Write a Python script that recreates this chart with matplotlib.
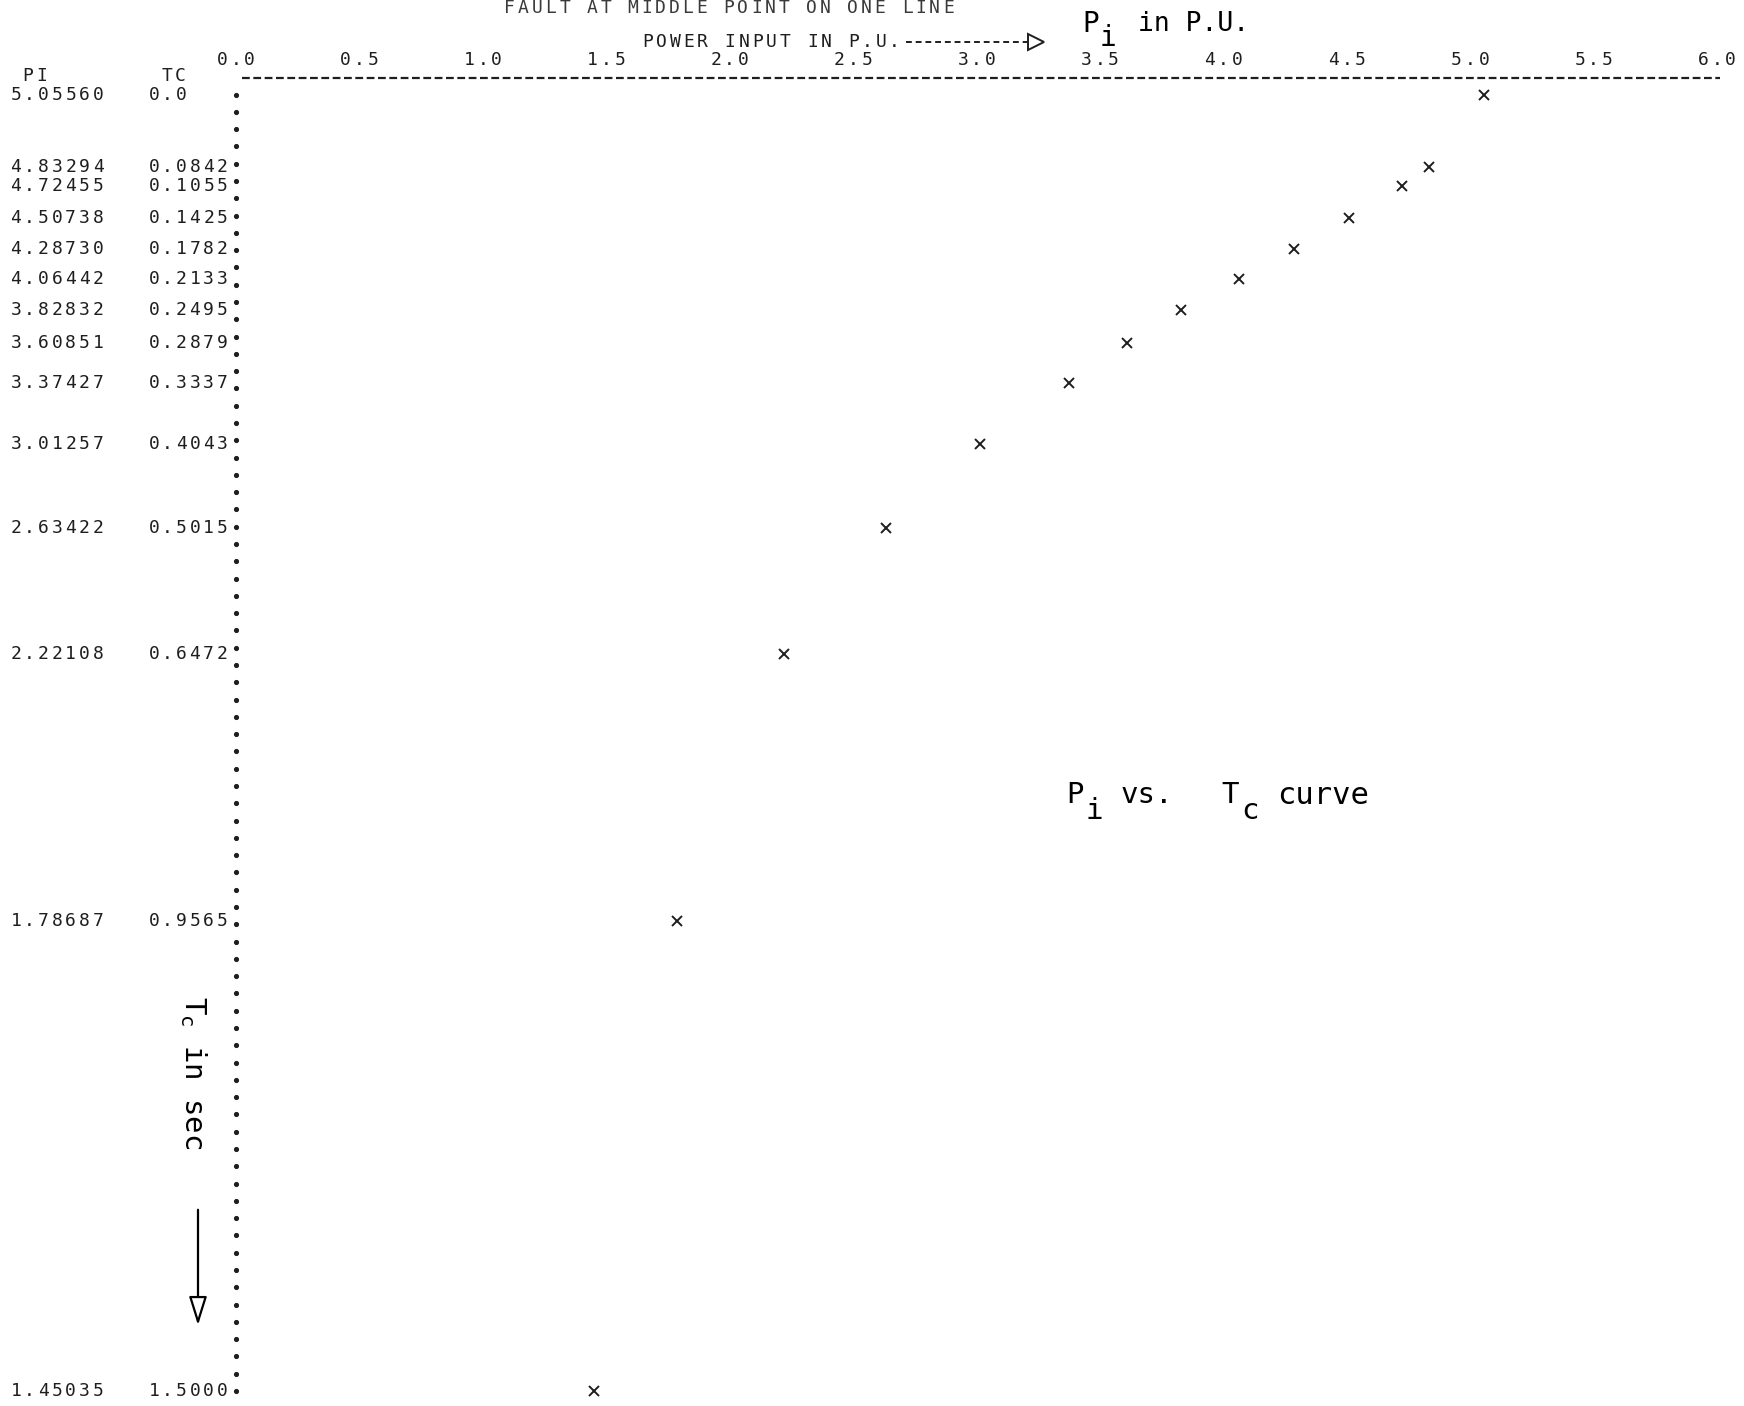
import numpy as np
import matplotlib
matplotlib.use("Agg")
import matplotlib.pyplot as plt
import matplotlib.transforms as mtransforms
from matplotlib.lines import Line2D
from matplotlib.patches import FancyArrowPatch

# ---- data ----
pi_values = [5.05560, 4.83294, 4.72455, 4.50738, 4.28730, 4.06442, 3.82832,
             3.60851, 3.37427, 3.01257, 2.63422, 2.22108, 1.78687, 1.45035]
tc_values = [0.0, 0.0842, 0.1055, 0.1425, 0.1782, 0.2133, 0.2495,
             0.2879, 0.3337, 0.4043, 0.5015, 0.6472, 0.9565, 1.5000]
pi_labels = ["5.05560", "4.83294", "4.72455", "4.50738", "4.28730", "4.06442",
             "3.82832", "3.60851", "3.37427", "3.01257", "2.63422", "2.22108",
             "1.78687", "1.45035"]
tc_labels = ["0.0", "0.0842", "0.1055", "0.1425", "0.1782", "0.2133", "0.2495",
             "0.2879", "0.3337", "0.4043", "0.5015", "0.6472", "0.9565", "1.5000"]
x_ticks = [0.0, 0.5, 1.0, 1.5, 2.0, 2.5, 3.0, 3.5, 4.0, 4.5, 5.0, 5.5, 6.0]
x_tick_labels = ["0.0", "0.5", "1.0", "1.5", "2.0", "2.5", "3.0", "3.5",
                 "4.0", "4.5", "5.0", "5.5", "6.0"]
row_step = 0.02   # one printer line per 0.02 s

W, H = 1744, 1406
fig = plt.figure(figsize=(W / 100, H / 100), dpi=100)
fig.patch.set_facecolor("white")


def fx(px):
    return px / W


def fy(py):
    return 1 - py / H


MONO = "DejaVu Sans Mono"
INK = "#1e1e1e"
PITCH = 13.7     # printer character pitch in pixels


def mono(x, y, s, transform, ha="left", size=13, color=INK, pitch=PITCH):
    """Draw text at a fixed line-printer character pitch."""
    n = len(s)
    if ha == "left":
        start = 0.0
    elif ha == "center":
        start = -n * pitch / 2
    else:
        start = -n * pitch
    for i, ch in enumerate(s):
        if ch == " ":
            continue
        tr = mtransforms.offset_copy(transform, x=start + (i + 0.5) * pitch,
                                     y=0, units="dots")
        fig.text(x, y, ch, transform=tr, ha="center", va="center",
                 family=MONO, fontsize=size, color=color)


# axes: x=0 at px 236, x=6 at px 1717; y=0 at px 94.5, y=1.5 at px 1391
ax_l, ax_r, ax_t, ax_b = 236, 1717, 94.5, 1391
ax = fig.add_axes([fx(ax_l), fy(ax_b), fx(ax_r - ax_l), (ax_b - ax_t) / H])
ax.set_xlim(0, 6)
ax.set_ylim(1.5, 0)
for s in ax.spines.values():
    s.set_visible(False)
ax.set_facecolor("none")
ax.set_xticks([])
ax.set_yticks([])

# tick labels along the top (data x, figure y)
tx = mtransforms.blended_transform_factory(ax.transData, fig.transFigure)
for v, lab in zip(x_ticks, x_tick_labels):
    mono(v, fy(60), lab, tx, ha="center")

# left dotted axis
dots_y = np.arange(0, 1.5 + 1e-9, row_step)
ax.plot(np.zeros_like(dots_y), dots_y, ls="none", marker="o", ms=2.7,
        color=INK, clip_on=False)

# data points
ax.plot(pi_values, tc_values, ls="none", marker="x", ms=6.5, mew=1.4,
        color=INK, clip_on=False)

# row labels (figure x, data y)
ty = mtransforms.blended_transform_factory(fig.transFigure, ax.transData)
for pl, tl, tc in zip(pi_labels, tc_labels, tc_values):
    mono(fx(9), tc, pl, ty)
    mono(fx(147), tc, tl, ty)

# column headers
mono(fx(21), fy(76), "PI", fig.transFigure)
mono(fx(160), fy(76), "TC", fig.transFigure)

# top dashed line
fig.add_artist(Line2D([fx(242), fx(1720)], [fy(78), fy(78)],
                      transform=fig.transFigure, color=INK, lw=1.6,
                      dashes=(3.5, 1.6)))

# title (cut at the top of the page)
mono(fx(729), fy(8), "FAULT AT MIDDLE POINT ON ONE LINE", fig.transFigure,
     ha="center", color="#3a3a3a")

# axis caption with dashed arrow
mono(fx(641), fy(42), "POWER INPUT IN P.U.", fig.transFigure)
fig.add_artist(Line2D([fx(906), fx(1030)], [fy(42), fy(42)],
                      transform=fig.transFigure, color=INK, lw=1.4,
                      dashes=(3, 2)))
fig.add_artist(Line2D([fx(1036)], [fy(42)], transform=fig.transFigure,
                      marker=">", ms=12, mfc="white", mec=INK, mew=1.4,
                      ls="none"))


# typed annotations (full-size lowered subscripts like a typewriter)
def typed(px, py, s, size):
    fig.text(fx(px), fy(py), s, family=MONO, fontsize=size, color="black",
             va="center", ha="left")


typed(1082, 24, "P", 20)
typed(1100, 38, "i", 20)
typed(1138, 24, "in P.U.", 19)

typed(1066, 795, "P", 21)
typed(1085, 811, "i", 21)
typed(1121, 795, "vs.", 21)
typed(1221, 795, "T", 21)
typed(1241, 811, "c", 21)
typed(1277, 795, "curve", 22)

fig.text(fx(193), fy(1073), r"$\mathtt{T_c}$ in sec", family=MONO,
         fontsize=21, color="black", va="center", ha="center",
         rotation=-90)

# downward arrow
fig.add_artist(FancyArrowPatch(
    (fx(198), fy(1207)), (fx(198), fy(1328)), transform=fig.transFigure,
    arrowstyle="-|>,head_length=0.8,head_width=0.25", mutation_scale=22,
    lw=1.6, color="black", fc="white"))

fig.savefig("out.png", dpi=100, facecolor="white")
